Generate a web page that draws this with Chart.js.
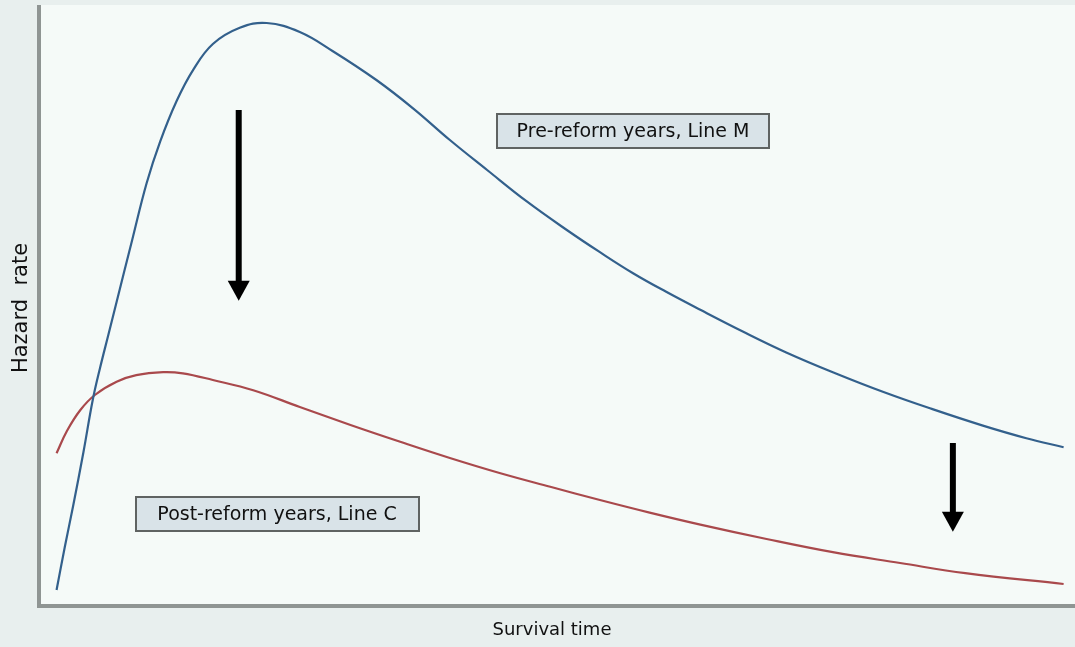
<!DOCTYPE html>
<html>
<head>
<meta charset="utf-8">
<script src="https://cdn.jsdelivr.net/npm/chart.js@4/dist/chart.umd.min.js"></script>
<style>
  html, body { margin: 0; padding: 0; background: #e8efee; }
  #wrap { width: 1075px; height: 647px; }
</style>
</head>
<body>
<div id="wrap"><canvas id="hazardChart" width="1075" height="647"></canvas></div>
<script>
// survival time (0-100) and hazard rate (0-100)
const preTime   = [1.6, 2.4, 3.2, 4.2, 5.1, 5.8, 6.6, 7.4, 8.9, 10.3, 11.6, 13.2, 14.8, 16.7, 19.3, 21.9, 25.1, 28.3, 32.5, 36.1, 39.6, 43.2, 47.0, 50.9, 54.1, 57.3, 60.5, 63.8, 68.0, 72.1, 76.6, 81.5, 86.3, 91.1, 95.3, 98.9];
const preHazard = [2.5, 9.7, 16.5, 25.5, 34.2, 39.5, 45.0, 50.5, 60.8, 70.3, 77.2, 84.0, 89.2, 93.5, 96.2, 97.0, 95.5, 92.3, 87.5, 82.7, 77.5, 72.5, 67.3, 62.5, 58.8, 55.3, 52.2, 49.2, 45.5, 42.1, 38.8, 35.5, 32.6, 29.9, 27.8, 26.3];

const postTime   = [1.6, 2.6, 3.9, 5.3, 7.4, 9.3, 11.9, 13.8, 16.7, 20.6, 25.1, 30.0, 34.8, 39.6, 44.4, 49.3, 54.1, 58.9, 63.8, 70.2, 76.6, 83.1, 89.4, 98.9];
const postHazard = [25.3, 29.0, 32.5, 35.0, 37.2, 38.3, 38.8, 38.6, 37.5, 35.8, 33.0, 30.0, 27.2, 24.5, 22.0, 19.7, 17.5, 15.4, 13.4, 11.0, 8.8, 7.0, 5.3, 3.5];

const labelBoxes = [
  { text: 'Pre-reform years, Line M',  t: 57.3, h: 79.0, w: 272 },
  { text: 'Post-reform years, Line C', t: 22.9, h: 15.2, w: 283 }
];
const arrows = [
  { t: 19.2, from: 82.5, to: 50.7 },
  { t: 88.2, from: 27.0, to: 12.2 }
];

function toPoints(xs, ys) {
  return xs.map((x, i) => ({ x: x, y: ys[i] }));
}

// background, axes, titles, boxes and arrows
const decor = {
  id: 'decor',
  beforeDraw(chart) {
    const c = chart.ctx, a = chart.chartArea;
    c.save();
    c.fillStyle = '#e8efee';
    c.fillRect(0, 0, chart.width, chart.height);
    c.fillStyle = '#f5faf8';
    c.fillRect(a.left, a.top, a.right - a.left, a.bottom - a.top);
    c.restore();
  },
  afterDatasetsDraw(chart) {
    const c = chart.ctx, a = chart.chartArea;
    const xs = chart.scales.x, ys = chart.scales.y;
    c.save();

    // axis lines
    c.strokeStyle = '#8f9593';
    c.lineWidth = 4;
    c.beginPath();
    c.moveTo(a.left - 1, a.top);
    c.lineTo(a.left - 1, a.bottom + 1);
    c.lineTo(a.right, a.bottom + 1);
    c.stroke();

    // axis titles
    c.fillStyle = '#111';
    c.textAlign = 'center';
    c.textBaseline = 'middle';
    c.font = '18px "DejaVu Sans"';
    c.fillText('Survival time', 552, 630);
    c.save();
    c.translate(22, 308);
    c.rotate(-Math.PI / 2);
    c.font = '21px "DejaVu Sans"';
    c.fillText('Hazard  rate', 0, 0);
    c.restore();

    // label boxes
    labelBoxes.forEach(b => {
      const cx = xs.getPixelForValue(b.t), cy = ys.getPixelForValue(b.h);
      const x0 = Math.round(cx - b.w / 2), y0 = Math.round(cy - 17);
      c.fillStyle = '#d9e3e8';
      c.fillRect(x0, y0, b.w, 34);
      c.strokeStyle = '#5f6362';
      c.lineWidth = 2;
      c.strokeRect(x0, y0, b.w, 34);
      c.fillStyle = '#111';
      c.font = '19px "DejaVu Sans"';
      c.fillText(b.text, cx, cy + 1);
    });

    // arrows
    arrows.forEach(ar => {
      const x = xs.getPixelForValue(ar.t);
      const y1 = ys.getPixelForValue(ar.from), y2 = ys.getPixelForValue(ar.to);
      c.strokeStyle = '#000';
      c.lineWidth = 6;
      c.beginPath();
      c.moveTo(x, y1);
      c.lineTo(x, y2 - 16);
      c.stroke();
      c.fillStyle = '#000';
      c.beginPath();
      c.moveTo(x - 11, y2 - 20);
      c.lineTo(x + 11, y2 - 20);
      c.lineTo(x, y2);
      c.closePath();
      c.fill();
    });
    c.restore();
  }
};

new Chart(document.getElementById('hazardChart'), {
  type: 'line',
  data: {
    datasets: [
      {
        label: 'Pre-reform years, Line M',
        data: toPoints(preTime, preHazard),
        borderColor: '#33608c',
        borderWidth: 2.2,
        pointRadius: 0,
        tension: 0.4
      },
      {
        label: 'Post-reform years, Line C',
        data: toPoints(postTime, postHazard),
        borderColor: '#a9494c',
        borderWidth: 2.2,
        pointRadius: 0,
        tension: 0.4
      }
    ]
  },
  options: {
    responsive: false,
    animation: false,
    devicePixelRatio: 1,
    layout: { padding: { left: 40, top: 5, right: 0, bottom: 42 } },
    scales: {
      x: { type: 'linear', min: 0, max: 100, display: false },
      y: { min: 0, max: 100, display: false }
    },
    plugins: {
      legend: { display: false },
      tooltip: { enabled: false }
    }
  },
  plugins: [decor]
});
</script>
</body>
</html>
